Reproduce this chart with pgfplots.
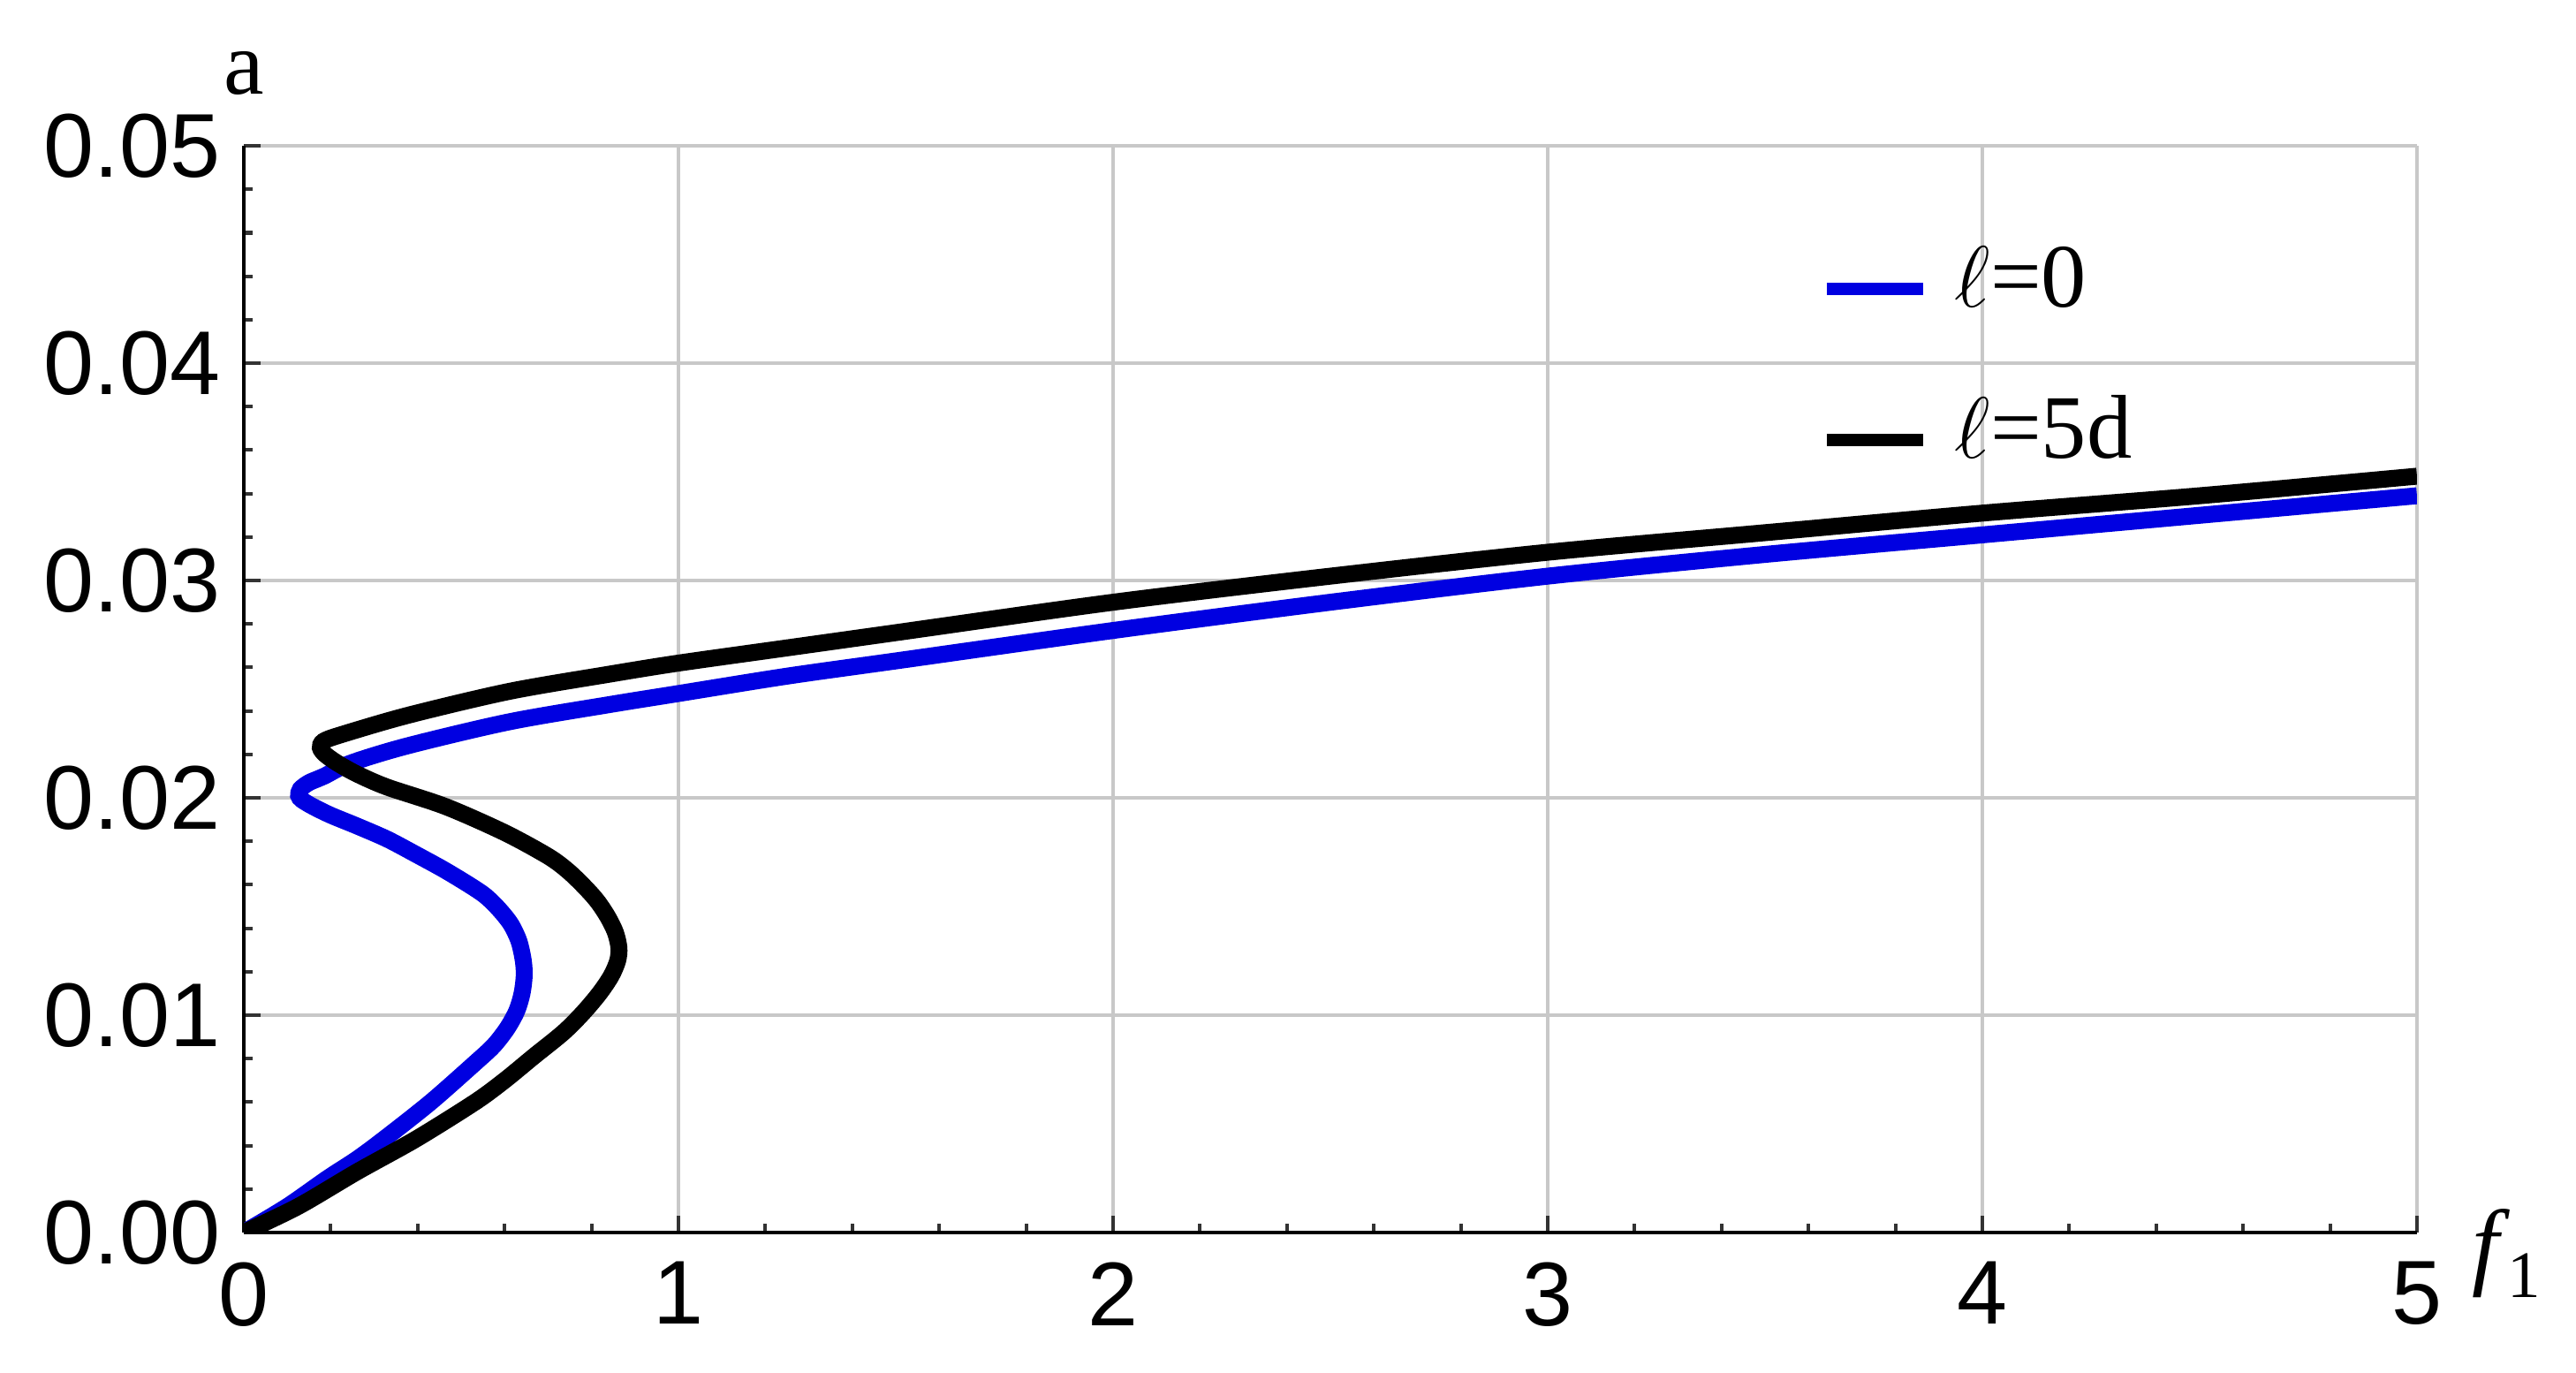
\documentclass[border=0pt]{standalone}
\usepackage{fontspec}
\setmainfont{Liberation Serif}
\newfontfamily\ticksans{Liberation Sans}
\usepackage{pgfplots}
\pgfplotsset{compat=1.18}
\definecolor{curveblue}{RGB}{0,0,225}
\definecolor{gridgray}{RGB}{200,200,200}

\begin{document}
\begin{tikzpicture}
\path[use as bounding box] (-1.42,-0.813) rectangle (13.58,7.176);
\begin{axis}[
    scale only axis,
    width=12.654cm, height=6.327cm,
    xmin=0, xmax=5, ymin=0, ymax=0.05,
    clip mode=individual,
    axis lines=left,
    axis line style={-, line width=0.7pt},
    xtick={0,1,2,3,4,5},
    ytick={0,0.01,0.02,0.03,0.04,0.05},
    minor x tick num=4, minor y tick num=4,
    tick align=inside,
    major tick length=0.1cm, minor tick length=0.05cm,
    tick style={line width=0.6pt, black!80},
    grid=major,
    grid style={gridgray, line width=0.5pt},
    scaled y ticks=false,
    yticklabel style={/pgf/number format/fixed, /pgf/number format/fixed zerofill,
        /pgf/number format/precision=2, inner sep=0pt, xshift=-0.13cm},
    xticklabel style={inner sep=0pt, yshift=-0.165cm},
    ticklabel style={font=\fontsize{15}{17}\selectfont\ticksans, /pgf/number format/assume math mode=true},
    legend cell align=left,
    legend style={draw=none, fill=none, inner sep=0pt, outer sep=0pt,
        at={(axis cs:3.628,0.0405)}, anchor=west,
        font=\fontsize{15}{17}\selectfont,
        row sep=15pt, column sep=0.15cm,
        nodes={inner sep=0pt, text height=10pt, text depth=0pt}},
    legend image code/.code={\draw[#1, line width=2pt] (0cm,-0.07cm) -- (0.56cm,-0.07cm);},
]

% l = 0
\addplot[curveblue, line width=2.8pt, smooth, tension=0.5] coordinates {
    (0,0) (0.100,0.0012) (0.193,0.0025) (0.262,0.0034) (0.329,0.0044)
    (0.430,0.0060) (0.532,0.0078) (0.575,0.0086) (0.606,0.0094) (0.628,0.0102)
    (0.640,0.0110) (0.645,0.0118) (0.643,0.0125) (0.633,0.0134) (0.614,0.0142)
    (0.586,0.0149) (0.555,0.0155) (0.518,0.0160) (0.460,0.0167) (0.396,0.0174)
    (0.330,0.0181) (0.261,0.0187) (0.200,0.0192) (0.159,0.0196) (0.134,0.0199)
    (0.126,0.0201) (0.130,0.0204) (0.150,0.0207) (0.185,0.0210) (0.246,0.0216)
    (0.378,0.0224) (0.611,0.0235) (0.844,0.0243) (1.0,0.0248) (1.25,0.0256)
    (1.5,0.0263) (2.0,0.0277) (2.5,0.0290) (3.0,0.0302) (3.5,0.0312)
    (4.0,0.0321) (4.5,0.0330) (5.0,0.0339)
};
\addlegendentry{$\ell$=0}

% l = 5d
\addplot[black, line width=2.8pt, smooth, tension=0.5] coordinates {
    (0,0) (0.125,0.0012) (0.261,0.0028) (0.396,0.0043) (0.532,0.0060)
    (0.600,0.0070) (0.667,0.0081) (0.735,0.0092) (0.780,0.0101) (0.818,0.0110)
    (0.845,0.0118) (0.860,0.0125) (0.863,0.0131) (0.855,0.0138) (0.838,0.0145)
    (0.815,0.0152) (0.789,0.0158) (0.748,0.0166) (0.701,0.0173) (0.600,0.0184)
    (0.464,0.0196) (0.329,0.0205) (0.260,0.0211) (0.215,0.0216) (0.187,0.0220)
    (0.176,0.0223) (0.183,0.0226) (0.223,0.0229) (0.378,0.0238) (0.611,0.0249)
    (0.844,0.0257) (1.0,0.0262) (1.25,0.0269) (1.5,0.0276) (2.0,0.0290)
    (2.5,0.0302) (3.0,0.0313) (3.5,0.0322) (4.0,0.0331) (4.5,0.0339)
    (5.0,0.0348)
};
\addlegendentry{$\ell$=5d}

% axis labels
\node[anchor=base, font=\fontsize{15}{17}\selectfont] at (rel axis cs:0,1) [yshift=0.30cm] {a};
\node[anchor=base west, font=\fontsize{16}{18}\selectfont] at (rel axis cs:1,0) [xshift=0.2cm, yshift=-0.26cm]
    {\textit{f}\kern-0.5pt\raisebox{-0.45ex}{\fontsize{11}{12}\selectfont 1}};

\end{axis}
\end{tikzpicture}
\end{document}
